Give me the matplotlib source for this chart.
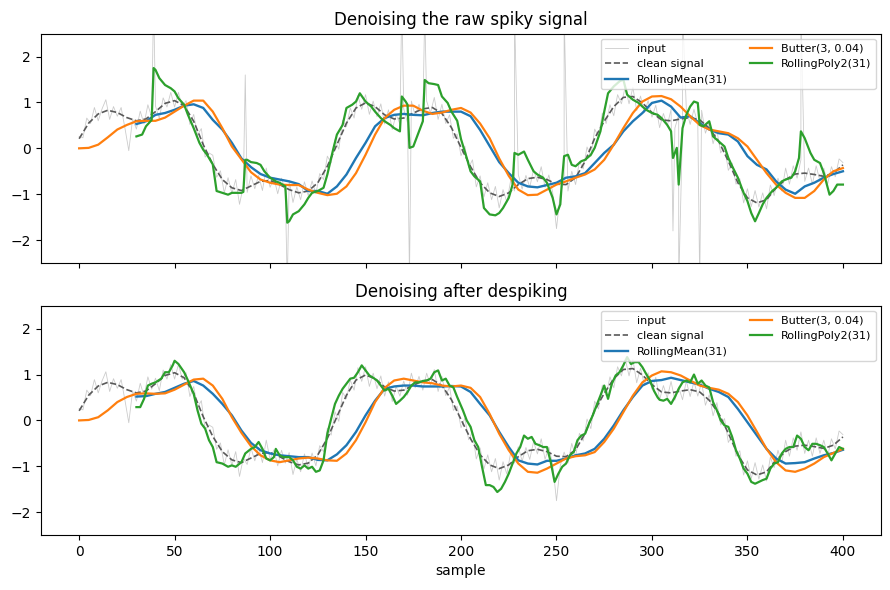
import numpy as np
import matplotlib
matplotlib.use("Agg")
import matplotlib.pyplot as plt

# ---------------- data ----------------
# despiked noisy input, every 2 samples
input_x = list(range(0, 401, 2))
input_despiked = [
    0.26, 0.23, 0.66, 0.54, 0.89,
    0.60, 0.86, 1.06, 0.63, 0.91,
    0.70, 0.89, 0.44, -0.05, 0.64,
    0.42, 0.81, 0.53, 0.95, 0.68,
    0.92, 0.65, 1.10, 0.90, 1.22,
    0.90, 1.22, 0.90, 1.04, 0.52,
    0.74, 0.29, 0.43, -0.19, -0.10,
    -0.15, -0.63, -0.49, -0.97, -0.64,
    -0.98, -0.68, -1.22, -0.82, -0.96,
    -0.60, -0.88, -0.59, -0.92, -0.43,
    -0.85, -0.64, -0.99, -0.65, -0.93,
    -0.70, -1.18, -0.84, -1.12, -0.73,
    -1.03, -0.71, -0.99, -0.55, -0.68,
    -0.17, -0.32, 0.19, -0.02, 0.61,
    0.47, 0.88, 0.66, 1.15, 0.85,
    1.17, 0.74, 1.03, 0.69, 0.97,
    0.53, 0.84, 0.41, 0.74, 0.53,
    0.86, 0.55, 1.03, 0.71, 0.96,
    0.66, 1.03, 0.77, 1.11, 0.63,
    0.96, 0.54, 0.73, 0.22, 0.31,
    -0.16, 0.05, -0.42, -0.25, -0.84,
    -0.60, -1.06, -0.75, -1.12, -0.83,
    -1.30, -0.90, -1.17, -0.70, -0.93,
    -0.57, -0.89, -0.59, -0.85, -0.46,
    -0.73, -0.40, -0.85, -0.58, -0.96,
    -1.75, -0.98, -0.69, -0.93, -0.50,
    -0.79, -0.28, -0.45, 0.03, -0.18,
    0.42, 0.25, 0.77, 0.54, 0.95,
    0.71, 1.17, 0.97, 1.34, 0.97,
    1.33, 0.82, 1.14, 0.78, 1.04,
    0.68, 0.94, 0.45, 0.76, 0.49,
    0.85, 0.44, 0.73, 0.45, 0.86,
    0.52, 0.85, 0.53, 0.83, 0.33,
    0.56, 0.10, 0.39, -0.10, 0.04,
    -0.48, -0.32, -0.78, -0.66, -1.19,
    -0.88, -1.27, -0.92, -1.28, -0.97,
    -1.32, -0.80, -1.03, -0.65, -0.93,
    -0.43, -0.78, -0.38, -0.65, -0.25,
    -0.72, -0.43, -0.78, -0.38, -0.72,
    -0.43, -0.78, -0.40, -0.62, -0.23,
    -0.31,
]
spike_x = [39, 87, 109, 169, 173, 181, 228, 254, 311, 314, 316, 325, 378]
spike_v = [3.2, 1.6, -3.0, 3.2, -2.8, 3.0, 3.0, 3.0, -1.8, -3.0, 3.0, -2.9, 3.0]

clean_x = list(range(0, 401, 5))
clean_v = [0.21, 0.55, 0.75, 0.83, 0.78, 0.67, 0.60, 0.64, 0.80, 0.98,
           1.04, 0.93, 0.59, 0.08, -0.35, -0.68, -0.86, -0.92, -0.82, -0.72,
           -0.70, -0.79, -0.90, -0.97, -0.93, -0.75, -0.39, 0.08, 0.55, 0.88,
           0.99, 0.91, 0.73, 0.64, 0.66, 0.77, 0.86, 0.89, 0.76, 0.45,
           0.02, -0.40, -0.75, -0.97, -1.05, -0.97, -0.79, -0.66, -0.63, -0.68,
           -0.78, -0.79, -0.64, -0.28, 0.22, 0.59, 0.91, 1.11, 1.13, 0.99,
           0.78, 0.62, 0.60, 0.64, 0.67, 0.62, 0.44, 0.15, -0.28, -0.75,
           -1.08, -1.19, -1.12, -0.86, -0.68, -0.56, -0.54, -0.57, -0.61, -0.54,
           -0.36]

# --- top panel (raw spiky) ---
butter_top_x = list(range(0, 401, 5))
butter_top = [0.00, 0.01, 0.08, 0.24, 0.41, 0.51, 0.59, 0.60, 0.60, 0.67,
              0.80, 0.93, 1.04, 1.04, 0.80, 0.44, 0.04, -0.24, -0.52, -0.68,
              -0.75, -0.79, -0.80, -0.80, -0.90, -0.97, -1.02, -0.99, -0.83, -0.54,
              -0.14, 0.30, 0.66, 0.84, 0.93, 0.93, 0.82, 0.75, 0.78, 0.84,
              0.88, 0.78, 0.54, 0.22, -0.22, -0.60, -0.90, -1.02, -1.01, -0.90,
              -0.79, -0.72, -0.64, -0.57, -0.46, -0.25, 0.08, 0.44, 0.77, 1.02,
              1.13, 1.14, 1.07, 0.91, 0.70, 0.51, 0.41, 0.37, 0.33, 0.22,
              0.04, -0.25, -0.54, -0.79, -0.97, -1.08, -1.08, -0.93, -0.68, -0.50,
              -0.43]

mean_top_x = list(range(30, 401, 5))
mean_top = [0.53, 0.59, 0.73, 0.77, 0.84, 0.93, 0.96, 0.88, 0.62, 0.41,
            0.12, -0.22, -0.41, -0.56, -0.64, -0.68, -0.72, -0.78, -0.93, -0.93,
            -0.99, -0.83, -0.57, -0.21, 0.12, 0.48, 0.66, 0.73, 0.75, 0.73,
            0.72, 0.77, 0.80, 0.80, 0.80, 0.70, 0.40, 0.05, -0.30, -0.54,
            -0.75, -0.83, -0.85, -0.80, -0.75, -0.64, -0.61, -0.54, -0.32, -0.10,
            0.08, 0.37, 0.59, 0.77, 0.99, 1.04, 0.91, 0.67, 0.70, 0.55,
            0.41, 0.33, 0.30, 0.15, -0.17, -0.36, -0.46, -0.72, -0.90, -0.99,
            -0.83, -0.75, -0.64, -0.56, -0.50]

poly_top_x = [30, 33, 35, 38, 39, 40, 42, 45, 48, 50, 52, 55, 57, 60, 63, 65, 67,
              70, 72, 75, 78, 80, 85, 86, 87, 88, 90, 93, 95, 97, 100, 103, 105,
              108, 109, 110, 112, 115, 118, 120, 122, 125, 128, 130, 133, 135,
              138, 140, 143, 145, 147, 150, 153, 155, 158, 160, 163, 165, 168,
              169, 171, 172, 173, 175, 178, 180, 181, 183, 186, 188, 190, 193,
              195, 198, 200, 203, 205, 207, 210, 212, 215, 218, 220, 222, 225,
              227, 228, 230, 233, 235, 238, 240, 243, 245, 248, 250, 252, 253,
              254, 256, 258, 260, 263, 265, 268, 270, 273, 275, 277, 280, 283,
              285, 287, 290, 293, 295, 297, 300, 303, 305, 308, 310, 311, 313,
              314, 316, 318, 320, 322, 324, 325, 327, 330, 332, 335, 338, 340,
              342, 345, 348, 350, 352, 354, 356, 358, 360, 363, 365, 368, 370,
              373, 375, 377, 378, 380, 383, 385, 388, 390, 393, 395, 397, 400]
poly_top = [0.26, 0.30, 0.48, 0.62, 1.75, 1.71, 1.53, 1.38, 1.31, 1.24, 1.09,
            0.95, 0.73, 0.44, 0.12, -0.03, -0.14, -0.35, -0.93, -0.97, -1.01,
            -0.97, -0.97, -0.95, -0.25, -0.25, -0.30, -0.32, -0.36, -0.50,
            -0.64, -0.72, -0.75, -0.83, -1.62, -1.59, -1.44, -1.37, -1.22,
            -1.08, -0.97, -0.93, -0.86, -0.57, -0.03, 0.30, 0.51, 0.88, 0.95,
            1.02, 1.20, 1.02, 0.91, 0.80, 0.66, 0.59, 0.51, 0.44, 0.37, 1.13,
            1.02, 0.95, 0.01, 0.04, 0.37, 0.59, 1.49, 1.42, 1.40, 1.38, 1.13,
            0.99, 0.80, 0.60, 0.20, -0.21, -0.50, -0.61, -0.72, -1.30, -1.44,
            -1.46, -1.41, -1.30, -1.08, -0.79, -0.10, -0.14, -0.07, -0.25,
            -0.50, -0.57, -0.64, -0.75, -1.08, -1.44, -1.22, -0.64, -0.17,
            -0.14, -0.36, -0.39, -0.28, -0.25, -0.14, 0.01, 0.37, 0.80, 1.20,
            1.35, 1.46, 1.50, 1.17, 1.06, 0.99, 0.91, 0.84, 0.77, 0.73, 0.66,
            0.51, 0.37, -0.21, 0.01, -0.79, 0.44, 0.73, 0.91, 1.02, 0.99, 0.51,
            0.48, 0.59, 0.26, 0.15, 0.04, -0.21, -0.39, -0.64, -0.97, -1.15,
            -1.41, -1.59, -1.41, -1.22, -1.08, -0.93, -0.86, -0.72, -0.68,
            -0.64, -0.50, -0.21, 0.37, 0.22, -0.10, -0.25, -0.32, -0.54, -1.01,
            -0.93, -0.79, -0.79]

# --- bottom panel (despiked) ---
butter_bot_x = list(range(0, 401, 5))
butter_bot = [0.00, 0.01, 0.07, 0.22, 0.40, 0.51, 0.58, 0.59, 0.58, 0.59,
              0.67, 0.78, 0.89, 0.91, 0.76, 0.47, 0.07, -0.27, -0.56, -0.76,
              -0.87, -0.91, -0.87, -0.83, -0.81, -0.83, -0.87, -0.88, -0.72, -0.43,
              -0.04, 0.40, 0.71, 0.87, 0.91, 0.87, 0.83, 0.81, 0.76, 0.74,
              0.76, 0.71, 0.51, 0.14, -0.29, -0.65, -0.94, -1.12, -1.14, -1.05,
              -0.94, -0.83, -0.78, -0.76, -0.69, -0.47, -0.18, 0.18, 0.54, 0.83,
              0.98, 1.07, 1.05, 0.98, 0.87, 0.76, 0.71, 0.67, 0.58, 0.40,
              0.11, -0.25, -0.62, -0.91, -1.09, -1.12, -1.05, -0.94, -0.80, -0.71,
              -0.62]

mean_bot_x = list(range(30, 401, 5))
mean_bot = [0.52, 0.53, 0.58, 0.62, 0.71, 0.80, 0.86, 0.76, 0.58, 0.36,
            0.11, -0.22, -0.49, -0.65, -0.72, -0.76, -0.78, -0.80, -0.80, -0.86,
            -0.87, -0.74, -0.54, -0.25, 0.11, 0.43, 0.69, 0.74, 0.76, 0.76,
            0.74, 0.74, 0.74, 0.75, 0.74, 0.62, 0.36, 0.11, -0.25, -0.58,
            -0.87, -0.94, -0.96, -0.88, -0.88, -0.83, -0.76, -0.72, -0.62, -0.40,
            -0.11, 0.22, 0.51, 0.76, 0.86, 0.88, 0.93, 0.88, 0.83, 0.78,
            0.69, 0.62, 0.51, 0.25, -0.04, -0.33, -0.62, -0.83, -0.94, -0.93,
            -0.91, -0.83, -0.76, -0.71, -0.64]

poly_bot_x = [30, 32, 34, 36, 38, 40, 43, 45, 47, 49, 50, 52, 55, 57, 60, 62,
              64, 66, 68, 70, 72, 75, 78, 80, 82, 85, 87, 90, 92, 94, 96, 98,
              100, 102, 103, 105, 107, 110, 112, 114, 116, 118, 120, 122, 124,
              126, 128, 130, 132, 134, 136, 138, 140, 142, 144, 146, 148, 150,
              152, 154, 156, 158, 160, 162, 164, 166, 168, 170, 172, 174, 176,
              178, 180, 182, 184, 186, 188, 190, 192, 194, 196, 198, 201, 203,
              205, 207, 209, 211, 213, 215, 217, 219, 221, 223, 225, 227, 229,
              231, 233, 235, 237, 239, 241, 243, 245, 247, 249, 251, 253, 255,
              257, 259, 261, 263, 265, 267, 269, 271, 273, 275, 277, 279, 281,
              283, 285, 287, 289, 291, 293, 295, 297, 299, 301, 303, 304, 306,
              308, 310, 312, 314, 316, 318, 320, 322, 324, 326, 328, 330, 332,
              334, 336, 338, 340, 342, 344, 346, 348, 350, 352, 354, 356, 358,
              360, 362, 364, 366, 368, 370, 372, 374, 376, 378, 380, 382, 384,
              386, 388, 390, 392, 394, 396, 398, 400]
poly_bot = [0.29, 0.29, 0.47, 0.76, 0.80, 0.83, 0.91, 1.05, 1.05, 1.20, 1.30,
            1.23, 1.05, 0.87, 0.58, 0.22, -0.07, -0.18, -0.43, -0.58, -0.91,
            -0.94, -1.01, -0.98, -1.01, -0.91, -0.72, -0.62, -0.58, -0.47,
            -0.62, -0.83, -0.87, -0.80, -0.62, -0.76, -0.80, -0.80, -0.87,
            -1.01, -1.05, -0.98, -1.05, -1.01, -1.12, -1.09, -0.87, -0.29,
            0.04, 0.36, 0.54, 0.69, 0.80, 0.91, 0.93, 1.05, 1.20, 1.09, 0.98,
            0.93, 0.87, 0.76, 0.65, 0.69, 0.54, 0.36, 0.43, 0.51, 0.62, 0.76,
            0.83, 0.83, 0.86, 0.87, 0.91, 1.05, 1.09, 0.87, 0.91, 0.76, 0.72,
            0.51, 0.22, 0.00, -0.14, -0.43, -0.58, -1.01, -1.41, -1.41, -1.45,
            -1.56, -1.49, -1.34, -1.16, -0.94, -0.72, -0.58, -0.33, -0.40,
            -0.36, -0.51, -0.54, -0.58, -0.58, -0.91, -1.34, -1.16, -1.01,
            -0.94, -0.76, -0.69, -0.43, -0.33, -0.29, -0.07, 0.11, 0.33, 0.54,
            0.76, 0.47, 0.80, 0.98, 1.05, 1.20, 1.38, 1.23, 1.27, 1.27, 1.16,
            1.01, 0.87, 0.65, 0.50, 0.45, 0.43, 0.47, 0.36, 0.51, 0.69, 0.83,
            0.87, 0.83, 1.00, 0.80, 0.87, 0.76, 0.72, 0.40, 0.22, 0.00, -0.11,
            -0.14, -0.36, -0.65, -0.83, -1.05, -1.16, -1.34, -1.38, -1.34,
            -1.30, -1.27, -1.05, -0.94, -0.91, -0.72, -0.62, -0.58, -0.58,
            -0.33, -0.40, -0.58, -0.65, -0.51, -0.51, -0.54, -0.58, -0.72,
            -0.87, -0.72, -0.58, -0.62]

labels = ["input", "clean signal", "RollingMean(31)", "Butter(3, 0.04)", "RollingPoly2(31)"]
titles = ["Denoising the raw spiky signal", "Denoising after despiking"]

# ---------------- build input series ----------------
x_top = np.array(input_x + spike_x, dtype=float)
v_top = np.array(input_despiked + spike_v, dtype=float)
order = np.argsort(x_top, kind="stable")
x_top, v_top = x_top[order], v_top[order]

panels = [
    (x_top, v_top, mean_top_x, mean_top, butter_top_x, butter_top, poly_top_x, poly_top),
    (np.array(input_x), np.array(input_despiked), mean_bot_x, mean_bot,
     butter_bot_x, butter_bot, poly_bot_x, poly_bot),
]

fig, axes = plt.subplots(2, 1, figsize=(8.9, 5.9), dpi=100, sharex=True)
fig.subplots_adjust(left=0.046, right=0.99, top=0.943, bottom=0.093, hspace=0.186)
for ax, title, (ix, iv, mx, mv, bx, bv, px, pv) in zip(axes, titles, panels):
    ax.plot(ix, iv, color="0.6", lw=0.6, alpha=0.5, label=labels[0])
    ax.plot(clean_x, clean_v, color="0.35", lw=1.2, ls="--", label=labels[1])
    ax.plot(mx, mv, color="C0", lw=1.7, label=labels[2])
    ax.plot(bx, bv, color="C1", lw=1.6, label=labels[3])
    ax.plot(px, pv, color="C2", lw=1.6, label=labels[4])
    ax.set_ylim(-2.5, 2.5)
    ax.set_title(title)
    ax.legend(loc="upper right", ncol=2, fontsize=8)
axes[1].set_xlabel("sample")
fig.savefig("out.png", dpi=100)
